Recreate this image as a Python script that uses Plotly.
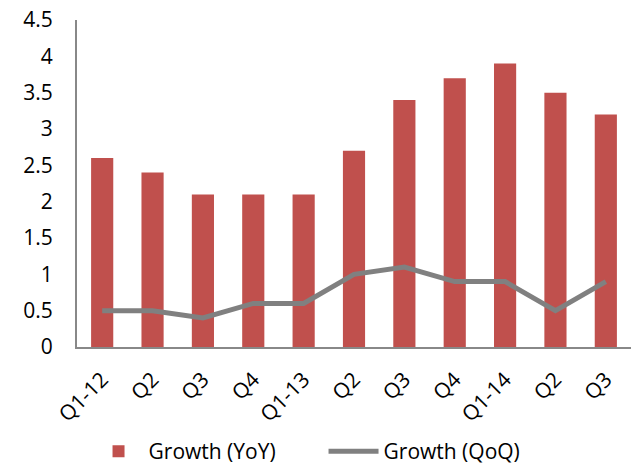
import plotly.graph_objects as go

categories = ["Q1-12", "Q2", "Q3", "Q4", "Q1-13", "Q2", "Q3", "Q4", "Q1-14", "Q2", "Q3"]
yoy = [2.6, 2.4, 2.1, 2.1, 2.1, 2.7, 3.4, 3.7, 3.9, 3.5, 3.2]
qoq = [0.5, 0.5, 0.4, 0.6, 0.6, 1.0, 1.1, 0.9, 0.9, 0.5, 0.9]
y_ticks = [0, 0.5, 1, 1.5, 2, 2.5, 3, 3.5, 4, 4.5]
y_tick_labels = ["0", "0.5", "1", "1.5", "2", "2.5", "3", "3.5", "4", "4.5"]

x = list(range(len(categories)))

fig = go.Figure()
fig.add_trace(go.Bar(x=x, y=yoy, name="Growth (YoY)", marker_color="#C0504D", marker_line_width=0))
fig.add_trace(go.Scatter(x=x, y=qoq, name="Growth (QoQ)", mode="lines",
                         line=dict(color="#808080", width=5)))

font = "Open Sans, Liberation Sans, sans-serif"
fig.update_layout(
    width=631, height=468,
    margin=dict(l=77, r=0, t=20, b=121, autoexpand=False),
    plot_bgcolor="white", paper_bgcolor="white",
    bargap=0.56,
    font=dict(family=font, size=21, color="black"),
    showlegend=True,
    legend=dict(orientation="h", x=0.445, xanchor="center", y=-0.32, yanchor="middle",
                font=dict(size=21), itemwidth=50, entrywidth=170, traceorder="normal"),
    xaxis=dict(tickmode="array", tickvals=x, ticktext=categories, range=[-0.5, 10.5],
               tickangle=-45, showline=True, linecolor="#888888", linewidth=2,
               ticks="", showgrid=False, zeroline=False, automargin=False,
               ticklabelstandoff=10),
    yaxis=dict(tickmode="array", tickvals=y_ticks, ticktext=y_tick_labels, range=[0, 4.5],
               showline=True, linecolor="#888888", linewidth=2, ticks="",
               showgrid=False, zeroline=False, ticklabelstandoff=18, automargin=False),
)

fig.write_html("out.html")
